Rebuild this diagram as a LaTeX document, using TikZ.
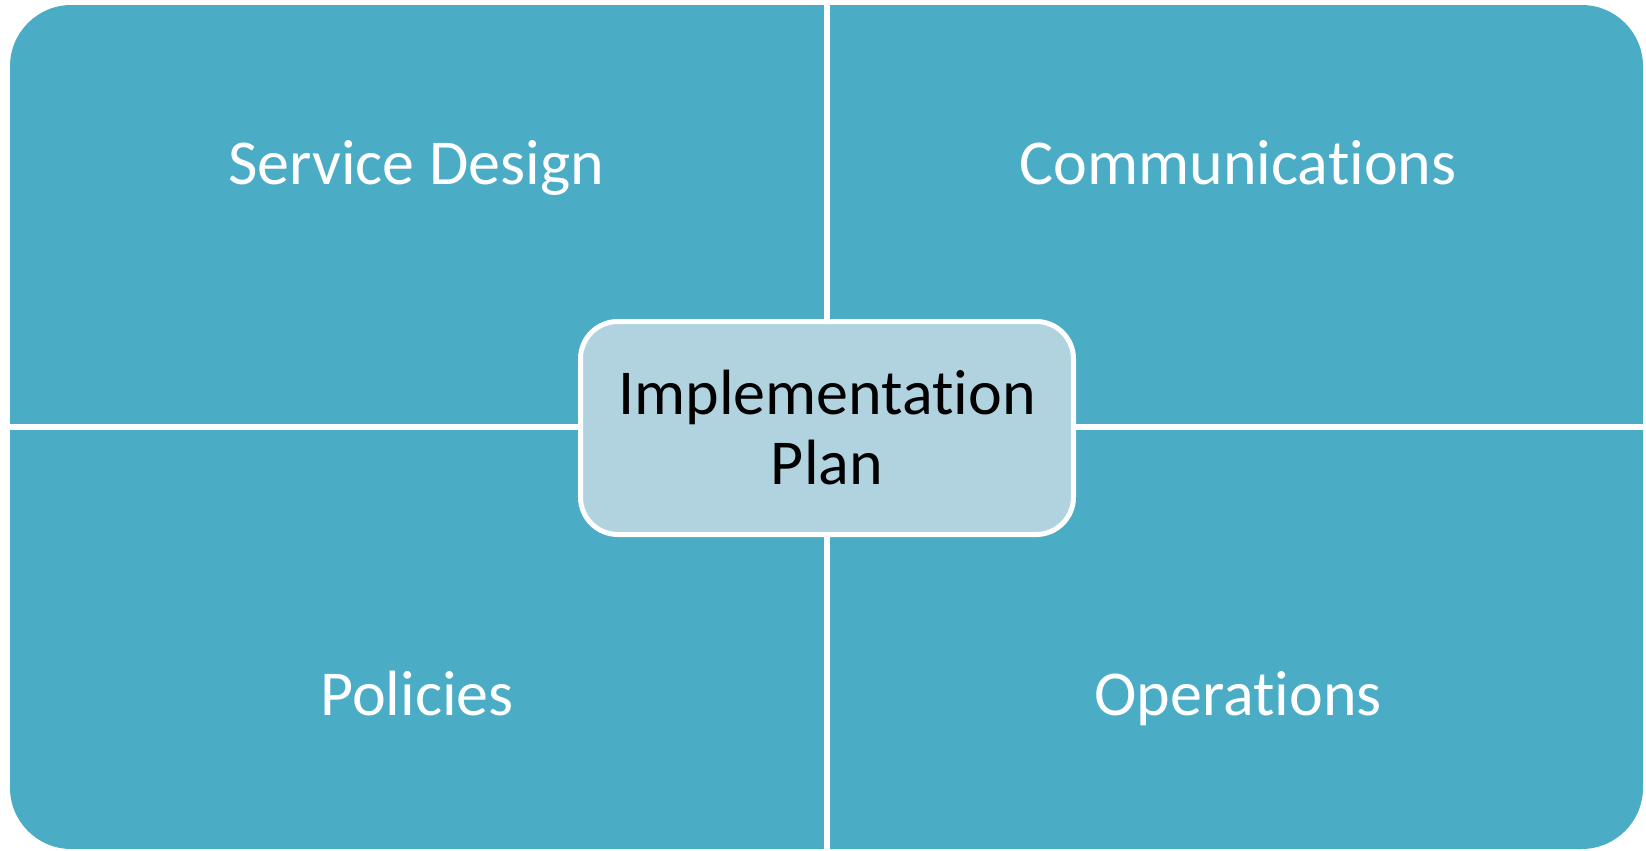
\documentclass[tikz,border=0pt]{standalone}
\usepackage{fontspec}
\setmainfont{Carlito}[RawFeature={-liga,-dlig}]
\definecolor{quadfill}{RGB}{75,172,198}
\definecolor{planfill}{RGB}{177,211,223}
\tikzset{every picture/.style={line width=0.75pt}}
\tikzset{
	divider/.style={draw=white, line width=4.5pt},
	quadlabel/.style={text=white, anchor=base, font=\fontsize{48}{58}\selectfont},
}

\begin{document}
\begin{tikzpicture}[x=0.75pt,y=0.75pt,yscale=-1,xscale=1]
	\useasboundingbox (0,0) rectangle (1646,850);

	%Shape: Rounded Rect [id:frame] 
	\node [fill=quadfill, rounded corners=46pt, inner sep=0pt, minimum width=1224.75pt, minimum height=633pt] (frame) at (826.5,427) {};

	%Straight Lines [id:dividers] 
	\draw [divider] (frame.north) -- (frame.south) ;
	\draw [divider] (frame.west) -- (frame.east) ;

	%Shape: Rounded Rect [id:plan] 
	\node [fill=planfill, draw=white, line width=3.75pt, rounded corners=28pt, minimum width=369.75pt, minimum height=159.75pt, align=center, font=\fontsize{48}{52.5}\selectfont] (plan) at (827,428) {Implementation\\Plan};

	% Text Node
	\node [quadlabel] (design) at (416,184) {Service Design};
	% Text Node
	\node [quadlabel] (comms) at (1238,184) {Communications};
	% Text Node
	\node [quadlabel] (policies) at (417,715) {Policies};
	% Text Node
	\node [quadlabel] (ops) at (1238,715) {Operations};

\end{tikzpicture}
\end{document}
